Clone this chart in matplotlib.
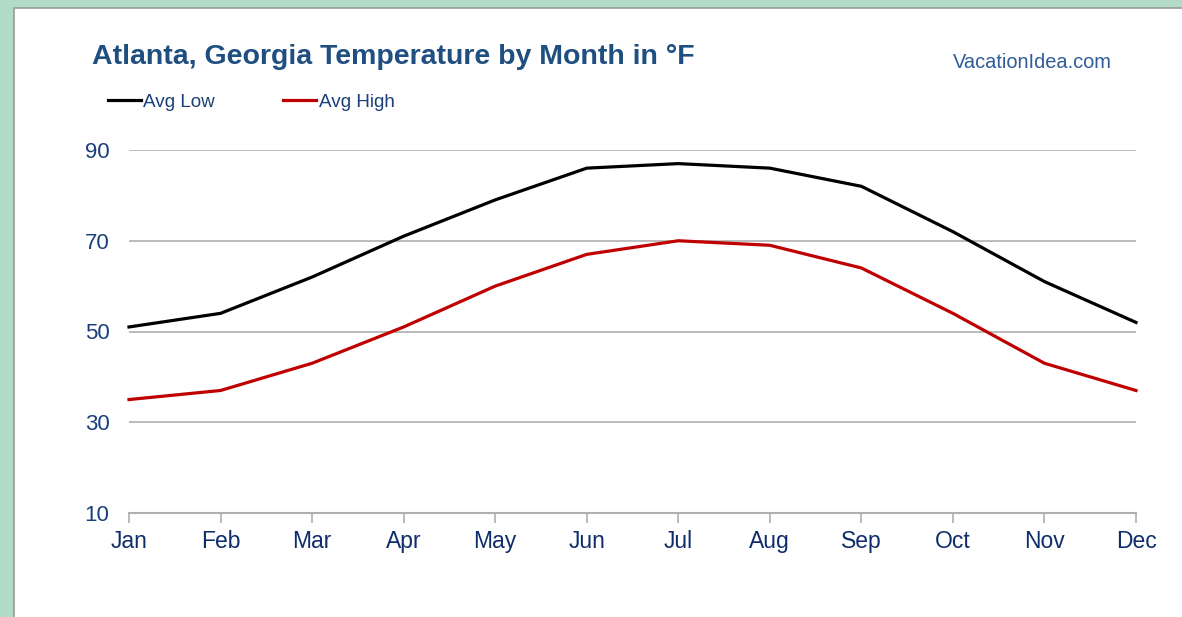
import matplotlib
matplotlib.use('Agg')
import matplotlib.pyplot as plt
from matplotlib.patches import Rectangle

months = ['Jan', 'Feb', 'Mar', 'Apr', 'May', 'Jun', 'Jul', 'Aug', 'Sep', 'Oct', 'Nov', 'Dec']
avg_low = [51, 54, 62, 71, 79, 86, 87, 86, 82, 72, 61, 52]
avg_high = [35, 37, 43, 51, 60, 67, 70, 69, 64, 54, 43, 37]
yticks = [10, 30, 50, 70, 90]

plt.rcParams['font.family'] = ['Liberation Sans', 'DejaVu Sans']

W, H = 1182, 617
fig = plt.figure(figsize=(W / 100, H / 100), dpi=100)
fig.patch.set_facecolor('#b3dcc8')
# white panel with grey border
fig.patches.append(Rectangle((14 / W, -0.01), 1.02, 1 - 8 / H + 0.01, transform=fig.transFigure,
                             facecolor='white', edgecolor='#9a9a9a', lw=1.2, zorder=-1))

ax = fig.add_axes([129 / W, 1 - 513 / H, (1136 - 129) / W, (513 - 150) / H])
ax.set_zorder(2)
ax.set_facecolor('none')
x = range(len(months))
ax.plot(x, avg_low, color='black', lw=2.3, label='Avg Low', clip_on=False, zorder=3)
ax.plot(x, avg_high, color='#c00000', lw=2.3, label='Avg High', clip_on=False, zorder=3)

ax.set_xlim(0, len(months) - 1)
ax.set_ylim(10, 90)
ax.set_yticks(yticks)
ax.set_xticks(list(x))
ax.set_xticklabels(months)
for v in yticks[1:]:
    ax.axhline(v, color='#afafaf', lw=1.2, zorder=1)

for s in ['top', 'right', 'left']:
    ax.spines[s].set_visible(False)
ax.spines['bottom'].set_color('#afafaf')
ax.spines['bottom'].set_linewidth(1.5)
ax.tick_params(axis='x', direction='out', length=7, width=1.2, color='#afafaf',
               labelsize=16.5, labelcolor='#0f2d6b', pad=5)
ax.tick_params(axis='y', length=0, labelsize=16, labelcolor='#1a3f7a', pad=14)

fig.text(92 / W, 1 - 57 / H, 'Atlanta, Georgia Temperature by Month in °F', fontsize=20.5,
         fontweight='bold', color='#1f4e80', va='center', ha='left')
fig.text(1112 / W, 1 - 62 / H, 'VacationIdea.com', fontsize=14.4, color='#2e5c9a',
         va='center', ha='right')

# legend drawn in figure space
fig.legend(loc='center left', bbox_to_anchor=(100 / W, 1 - 102 / H), ncol=2, frameon=False,
           fontsize=13.6, labelcolor='#1a3f7a', handlelength=1.75, handletextpad=0.15,
           columnspacing=3.6, borderaxespad=0)

fig.savefig('out.png', dpi=100, facecolor=fig.get_facecolor())
